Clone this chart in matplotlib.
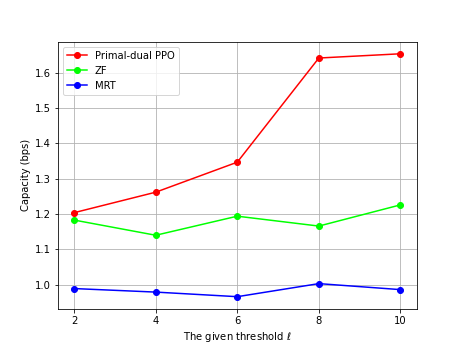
import matplotlib
matplotlib.use("Agg")
import matplotlib.pyplot as plt

# threshold values and capacities
thresholds = [2, 4, 6, 8, 10]
ppo = [1.204, 1.262, 1.347, 1.642, 1.654]
zf = [1.183, 1.140, 1.194, 1.166, 1.226]
mrt = [0.989, 0.979, 0.966, 1.003, 0.986]

plt.figure(figsize=(463 / 72, 347 / 72), dpi=72)
plt.plot(thresholds, ppo, 'o-', color='#ff0000', label='Primal-dual PPO')
plt.plot(thresholds, zf, 'o-', color='#00ff00', label='ZF')
plt.plot(thresholds, mrt, 'o-', color='#0000ff', label='MRT')
plt.xticks(thresholds)
plt.xlabel(r"The given threshold $\ell$")
plt.ylabel("Capacity (bps)")
plt.legend(loc='upper left')
plt.grid(True)
plt.savefig("out.png", dpi=72)
